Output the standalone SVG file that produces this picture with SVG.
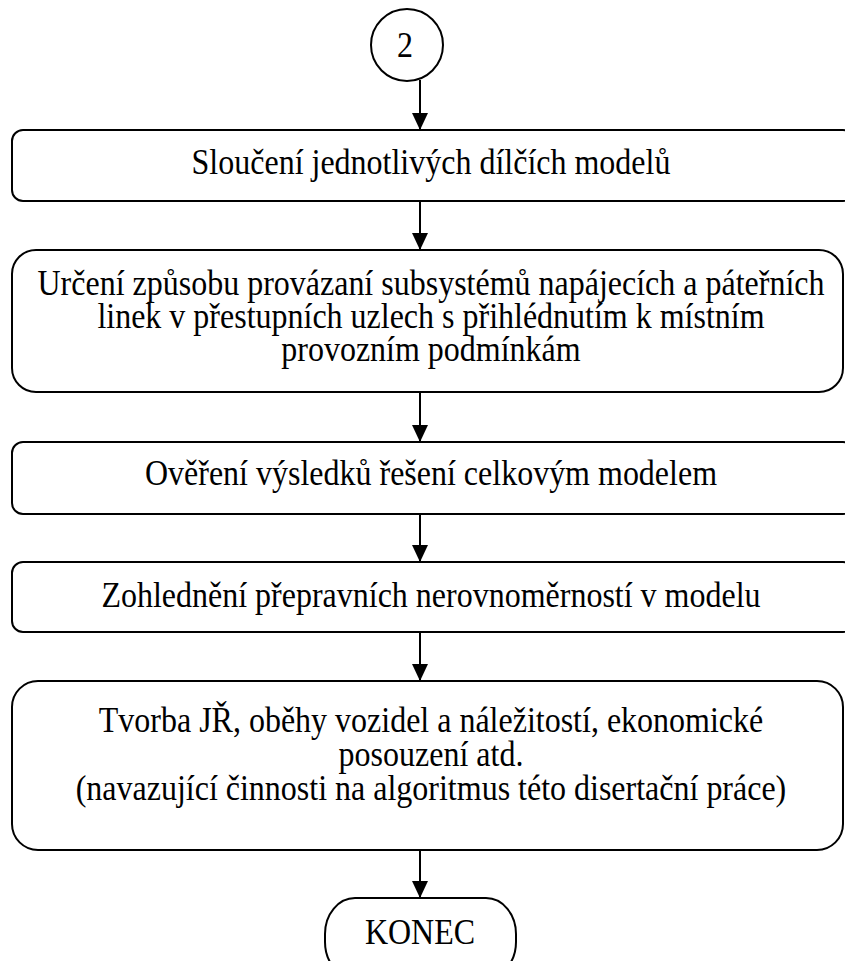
<svg xmlns="http://www.w3.org/2000/svg" width="845" height="961" viewBox="0 0 845 961">
  <style>
    .box { fill: #ffffff; stroke: #000000; stroke-width: 2; }
    .lbl { font-size: 32px; fill: #000000; text-anchor: middle; }
    .conn { stroke: #000000; stroke-width: 2; fill: none; marker-end: url(#arrow); }
  </style>
  <defs>
    <marker id="arrow" viewBox="0 0 17 16" refX="17" refY="8" markerWidth="17" markerHeight="16" markerUnits="userSpaceOnUse" orient="auto">
      <path d="M0,0 L17,8 L0,16 z" fill="#000000"/>
    </marker>
  </defs>
  <rect width="845" height="961" fill="#ffffff"/>

  <!-- flow arrows, all on the central axis -->
  <g id="connectors">
    <line class="conn" x1="420" y1="80" x2="420" y2="130"/>
    <line class="conn" x1="420" y1="201" x2="420" y2="250"/>
    <line class="conn" x1="420" y1="392" x2="420" y2="442"/>
    <line class="conn" x1="420" y1="514" x2="420" y2="562"/>
    <line class="conn" x1="420" y1="632" x2="420" y2="681"/>
    <line class="conn" x1="420" y1="850" x2="420" y2="898"/>
  </g>

  <!-- labels are stretched 1.1x vertically about their baselines (narrow, tall type) -->
  <g font-family="'Liberation Serif', 'Times New Roman', Times, serif">
    <g id="start">
      <circle class="box" cx="407" cy="45" r="36"/>
      <text class="lbl" x="405" y="57" transform="matrix(1 0 0 1.1 0 -5.7)">2</text>
    </g>

    <g id="merge">
      <rect class="box" x="12" y="130" width="842" height="71" rx="11"/>
      <text class="lbl" x="431" y="174" transform="matrix(1 0 0 1.1 0 -17.4)">Sloučení jednotlivých dílčích modelů</text>
    </g>

    <g id="linking">
      <rect class="box" x="12" y="250" width="831" height="142" rx="24"/>
      <text class="lbl" x="431" y="295" transform="matrix(1 0 0 1.1 0 -29.5)">Určení způsobu provázaní subsystémů napájecích a páteřních</text>
      <text class="lbl" x="431" y="328" transform="matrix(1 0 0 1.1 0 -32.8)">linek v přestupních uzlech s přihlédnutím k místním</text>
      <text class="lbl" x="431" y="361" transform="matrix(1 0 0 1.1 0 -36.1)">provozním podmínkám</text>
    </g>

    <g id="verify">
      <rect class="box" x="12" y="442" width="842" height="72" rx="11"/>
      <text class="lbl" x="431" y="485" transform="matrix(1 0 0 1.1 0 -48.5)">Ověření výsledků řešení celkovým modelem</text>
    </g>

    <g id="variation">
      <rect class="box" x="12" y="562" width="842" height="70" rx="11"/>
      <text class="lbl" x="431" y="607" transform="matrix(1 0 0 1.1 0 -60.7)">Zohlednění přepravních nerovnoměrností v modelu</text>
    </g>

    <g id="timetable">
      <rect class="box" x="12" y="681" width="831" height="169" rx="26"/>
      <text class="lbl" x="431" y="732" transform="matrix(1 0 0 1.1 0 -73.2)">Tvorba JŘ, oběhy vozidel a náležitostí, ekonomické</text>
      <text class="lbl" x="431" y="766" transform="matrix(1 0 0 1.1 0 -76.6)">posouzení atd.</text>
      <text class="lbl" x="431" y="800" transform="matrix(1 0 0 1.1 0 -80)">(navazující činnosti na algoritmus této disertační práce)</text>
    </g>

    <g id="end">
      <rect class="box" x="325" y="898" width="191" height="80" rx="30" ry="36"/>
      <text class="lbl" x="420" y="944" transform="matrix(1 0 0 1.1 0 -94.4)">KONEC</text>
    </g>
  </g>
</svg>
